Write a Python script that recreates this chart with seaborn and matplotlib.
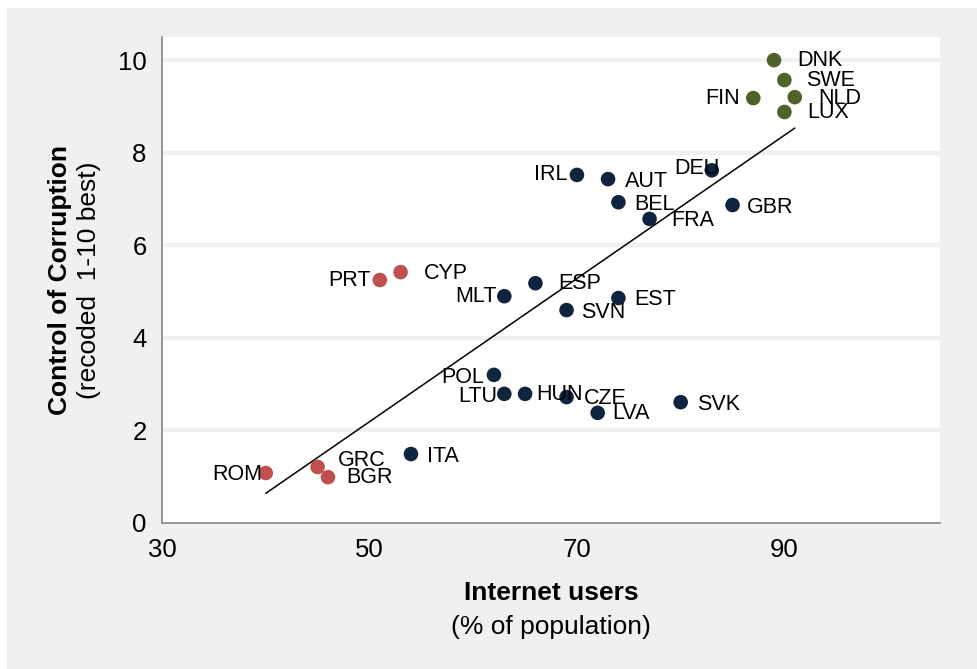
import numpy as np
import pandas as pd
import matplotlib
matplotlib.use("Agg")
import matplotlib.pyplot as plt
from matplotlib.patches import Rectangle
import seaborn as sns

# Country codes, internet users (% of population), control of corruption (1-10)
countries = ["DNK", "SWE", "FIN", "NLD", "LUX", "DEU", "IRL", "AUT", "BEL", "GBR",
             "FRA", "CYP", "PRT", "ESP", "MLT", "EST", "SVN", "POL", "LTU", "HUN",
             "CZE", "LVA", "SVK", "ITA", "GRC", "BGR", "ROM"]
internet_users = [89, 90, 87, 91, 90, 83, 70, 73, 74, 85,
                  77, 53, 51, 66, 63, 74, 69, 62, 63, 65,
                  69, 72, 80, 54, 45, 46, 40]
corruption = [10.0, 9.57, 9.18, 9.2, 8.88, 7.62, 7.52, 7.43, 6.93, 6.87,
              6.57, 5.42, 5.25, 5.18, 4.9, 4.86, 4.6, 3.2, 2.79, 2.79,
              2.72, 2.38, 2.61, 1.49, 1.21, 0.99, 1.08]
groups = ["top"] * 5 + ["mid"] * 6 + ["low"] * 2 + ["mid"] * 11 + ["low"] * 3

palette = {"top": "#4f6228", "mid": "#0f243e", "low": "#c0504d"}

# label offsets in pixels (dx, dy, ha) relative to each point
label_pos = {
    "DNK": (23, 0, "left"), "SWE": (22, 0, "left"), "FIN": (-13, 0, "right"),
    "NLD": (23, -1, "left"), "LUX": (23, -1, "left"), "DEU": (8, 2, "right"),
    "IRL": (-9, 0, "right"), "AUT": (17, -2, "left"), "BEL": (16, -2, "left"),
    "GBR": (14, -2, "left"), "FRA": (22, -2, "left"), "CYP": (23, -1, "left"),
    "PRT": (-9, -1, "right"), "ESP": (23, 0, "left"), "MLT": (-8, 0, "right"),
    "EST": (16, -1, "left"), "SVN": (15, -2, "left"), "POL": (-10, -3, "right"),
    "LTU": (-7, -3, "right"), "HUN": (11, -1, "left"), "CZE": (17, -1, "left"),
    "LVA": (15, -1, "left"), "SVK": (16, -2, "left"), "ITA": (16, -2, "left"),
    "GRC": (20, 6, "left"), "BGR": (18, 0, "left"), "ROM": (-3, -1, "right"),
}

df = pd.DataFrame({"country": countries, "internet": internet_users,
                   "corruption": corruption, "group": groups})

sns.set_style("white")
plt.rcParams["font.family"] = ["Liberation Sans", "DejaVu Sans"]
plt.rcParams["text.color"] = "black"

fig = plt.figure(figsize=(9.77, 6.69), dpi=100, facecolor="white")
fig.patches.append(Rectangle((7 / 977, 0), 1, 1 - 8 / 669, transform=fig.transFigure,
                             facecolor="#f0f0f0", edgecolor="none", zorder=-10))
ax = fig.add_axes([162 / 977, 1 - 523 / 669, (940 - 162) / 977, (523 - 37) / 669])
ax.set_facecolor("white")

ax.set_xlim(30, 105)
ax.set_ylim(0, 10.5)
ax.set_xticks([30, 50, 70, 90])
ax.set_yticks([0, 2, 4, 6, 8, 10])
for yv in [2, 4, 6, 8, 10]:
    ax.axhline(yv, color="#f0f0f0", lw=3.2, zorder=0)

sns.regplot(data=df, x="internet", y="corruption", scatter=False, ci=None,
            truncate=True, color="black", line_kws={"lw": 1.1}, ax=ax)
sns.scatterplot(data=df, x="internet", y="corruption", hue="group", palette=palette,
                s=110, edgecolor="none", legend=False, ax=ax, zorder=3)

for c, xv, yv in zip(countries, internet_users, corruption):
    dx, dy, ha = label_pos[c]
    ax.annotate(c, (xv, yv), xytext=(dx * 0.72, dy * 0.72), textcoords="offset points",
                ha=ha, va="center", fontsize=15.5, color="black", zorder=4)

for side in ["top", "right"]:
    ax.spines[side].set_visible(False)
for side in ["left", "bottom"]:
    ax.spines[side].set_color("#868686")
    ax.spines[side].set_linewidth(1.2)
ax.tick_params(axis="both", direction="out", length=6, width=1.2, color="#868686",
               labelsize=18.5, labelcolor="black", pad=5)
ax.set_xlabel("")
ax.set_ylabel("")

# two-line axis titles
fig.text(551 / 977, 1 - 593 / 669, "Internet users", ha="center", va="center",
         fontsize=19, fontweight="bold")
fig.text(551 / 977, 1 - 627 / 669, "(% of population)", ha="center", va="center",
         fontsize=19)
fig.text(60 / 977, 1 - 280 / 669, "Control of Corruption", ha="center", va="center",
         fontsize=19, fontweight="bold", rotation=90)
fig.text(89 / 977, 1 - 280 / 669, "(recoded  1-10 best)", ha="center", va="center",
         fontsize=19, rotation=90)

fig.savefig("out.png", dpi=100, facecolor=fig.get_facecolor())
